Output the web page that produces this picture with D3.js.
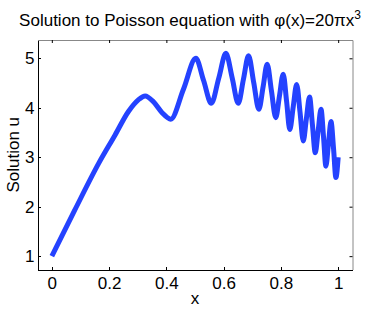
<!DOCTYPE html>
<html>
<head>
<meta charset="utf-8">
<script src="https://cdn.jsdelivr.net/npm/d3@7"></script>
<style>
	body{margin:0;background:#fff;}
	svg{display:block;font-family:"Liberation Sans",Helvetica,Arial,sans-serif;}
	.axis text{font-size:17px;fill:#000;}
	.axis line,.axis path{stroke:#000;shape-rendering:crispEdges;}
	.axis2 line{stroke:#000;}
	.axis2 path{stroke:#888;}
	.t_title{font-size:17px;fill:#000;}
	.t_label{font-size:17px;fill:#000;}
</style>
</head>
<body>
<svg width="374" height="309"></svg>
<script>

/* ----------------------------------------------------------
data
---------------------------------------------------------- */

var xTicks = [0, 0.2, 0.4, 0.6, 0.8, 1];
var yTicks = [1, 2, 3, 4, 5];

// (peaks, troughs and points between)
var xs = [0, 0.08, 0.165, 0.221, 0.267, 0.302, 0.326, 0.355, 0.385, 0.415,
	0.46, 0.503, 0.53, 0.557, 0.583, 0.608, 0.63, 0.651, 0.669, 0.687,
	0.705, 0.723, 0.738, 0.752, 0.767, 0.782, 0.795, 0.808, 0.82, 0.831,
	0.843, 0.855, 0.867, 0.878, 0.889, 0.9, 0.91, 0.92, 0.93, 0.94,
	0.949, 0.957, 0.966, 0.975, 0.984, 0.992, 1];
var us = [1, 1.93, 2.89, 3.45, 3.92, 4.16, 4.24, 4.12, 3.9, 3.77,
	4.38, 5, 4.55, 4.09, 4.6, 5.1, 4.6, 4.09, 4.57, 5.05,
	4.51, 3.97, 4.43, 4.88, 4.34, 3.8, 4.24, 4.68, 4.12, 3.56,
	4.02, 4.47, 3.9, 3.33, 3.78, 4.22, 3.66, 3.09, 3.53, 3.97,
	3.4, 2.82, 3.27, 3.72, 3.16, 2.59, 3];

/* ----------------------------------------------------------
setting
---------------------------------------------------------- */

var L = 37.5, R = 352.5, T = 40, B = 269.5;
var svg = d3.select("svg");

var x = d3.scaleLinear().domain([-0.05, 1.05]).range([L, R]);
var y = d3.scaleLinear().domain([0.73, 5.37]).range([B, T]);

//axis
svg.append("g").attr("class", "axis2").attr("transform", "translate(0," + T + ")")
	.call(d3.axisTop(x).tickValues(xTicks).tickSize(-3).tickSizeOuter(0).tickFormat(""));
svg.append("g").attr("class", "axis2").attr("transform", "translate(" + R + ",0)")
	.call(d3.axisRight(y).tickValues(yTicks).tickSize(-3).tickSizeOuter(0).tickFormat(""));
svg.append("g").attr("class", "axis").attr("transform", "translate(0," + B + ")")
	.call(d3.axisBottom(x).tickValues(xTicks).tickSize(-3).tickSizeOuter(0).tickPadding(7).tickFormat(d3.format("")));
svg.append("g").attr("class", "axis").attr("transform", "translate(" + L + ",0)")
	.call(d3.axisLeft(y).tickValues(yTicks).tickSize(-3).tickSizeOuter(0).tickPadding(3).tickFormat(d3.format("d")));
svg.selectAll(".axis, .axis2").attr("font-family", null).attr("font-size", null);

//path
var line = d3.line()
	.x(function(d, i){ return x(xs[i]); })
	.y(function(d, i){ return y(d); })
	.curve(d3.curveMonotoneX);
svg.append("path")
	.attr("d", line(us))
	.style("fill", "none")
	.style("stroke", "#2442ff")
	.style("stroke-width", 5);

//text
svg.append("text").attr("x", 190).attr("y", 26).attr("class", "t_title").attr("text-anchor", "middle")
	.html("Solution to Poisson equation with \u03c6(x)=20\u03c0x<tspan dy='-7' font-size='12px'>3</tspan>");
svg.append("text").attr("x", (L + R) / 2).attr("y", 304).attr("class", "t_label").attr("text-anchor", "middle").text("x");
svg.append("text").attr("transform", "translate(19," + ((T + B) / 2) + ") rotate(-90)")
	.attr("class", "t_label").attr("text-anchor", "middle").text("Solution u");

</script>
</body>
</html>
